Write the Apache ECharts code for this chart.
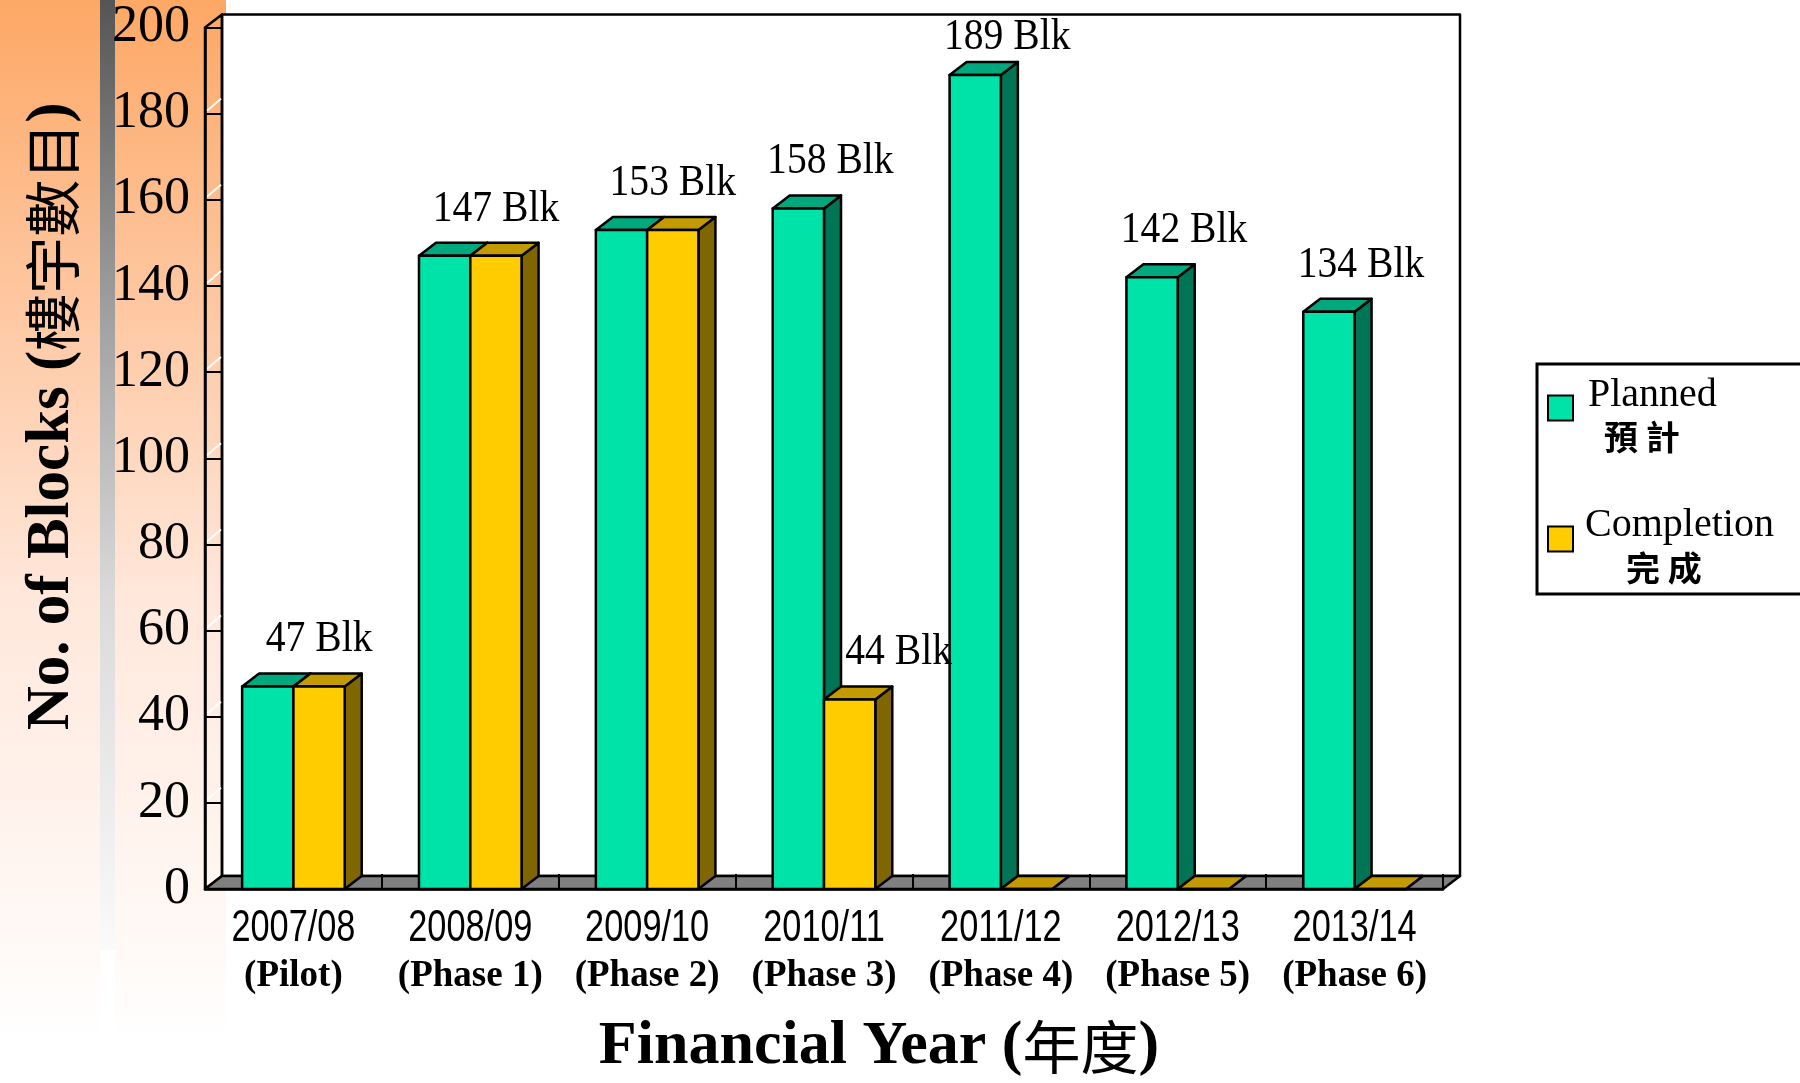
<!DOCTYPE html>
<html>
<head>
<meta charset="utf-8">
<title>No. of Blocks</title>
<script src="https://cdn.jsdelivr.net/npm/echarts@6.0.0/dist/echarts.min.js"></script>
<style>
  html, body { margin: 0; padding: 0; background: #fff; }
  #chart { width: 1800px; height: 1083px; }
</style>
</head>
<body>
<div id="chart"></div>
<script>
// 数据
var years = ['2007/08', '2008/09', '2009/10', '2010/11', '2011/12', '2012/13', '2013/14'];
var phases = ['(Pilot)', '(Phase 1)', '(Phase 2)', '(Phase 3)', '(Phase 4)', '(Phase 5)', '(Phase 6)'];
var planned = [47, 147, 153, 158, 189, 142, 134];
var completed = [47, 147, 153, 44, 0, 0, 0];
var yTicks = [0, 20, 40, 60, 80, 100, 120, 140, 160, 180, 200];

(function () {
  var myChart = echarts.init(document.getElementById('chart'));

  // 3D 深度偏移
  var DX = 17, DY = -13;
  var serif = '"Liberation Serif", "Times New Roman", serif';
  var sans = '"Liberation Sans", Arial, sans-serif';
  var cjk = '"Noto Sans CJK TC", "Noto Sans CJK SC", sans-serif';

  var green = { front: '#00E3A8', top: '#00A87E', side: '#007556' };
  var yellow = { front: '#FFCC00', top: '#C39B00', side: '#806600' };

  function edge(fill) {
    return { fill: fill, stroke: '#000', lineWidth: 2.5, lineJoin: 'round' };
  }

  // 背景墙、侧墙、地板、类目文字
  function renderFrame(params, api) {
    var cs = params.coordSys;
    var x = cs.x, y = cs.y, w = cs.width, h = cs.height;
    var children = [];
    children.push({ type: 'rect', shape: { x: x + DX, y: y + DY, width: w, height: h }, style: edge('#fff') });
    children.push({
      type: 'polygon',
      shape: { points: [[x, y], [x + DX, y + DY], [x + DX, y + h + DY], [x, y + h]] },
      style: edge('none')
    });
    yTicks.forEach(function (t) {
      var p = api.coord([0, t]);
      if (t === 0 || t === 200) return;
      children.push({
        type: 'line',
        shape: { x1: x + 2, y1: p[1] - 3, x2: x + DX - 1, y2: p[1] + DY - 2 },
        style: { stroke: '#fff', lineWidth: 2 }
      });
    });
    children.push({
      type: 'polygon',
      shape: { points: [[x, y + h], [x + w, y + h], [x + w + DX, y + h + DY], [x + DX, y + h + DY]] },
      style: edge('#808080')
    });
    // 类目标签（窄体年份 + 粗体期数）
    years.forEach(function (yr, i) {
      var p = api.coord([i, 0]);
      children.push({
        type: 'text', x: p[0], y: p[1] + 40, scaleX: 0.78,
        style: { text: yr, font: '44px ' + sans, fill: '#000', align: 'center', verticalAlign: 'middle' }
      });
      children.push({
        type: 'text', x: p[0], y: p[1] + 87,
        style: { text: phases[i], font: 'bold 37px ' + serif, fill: '#000', align: 'center', verticalAlign: 'middle' }
      });
    });
    return { type: 'group', children: children };
  }

  // 立体柱子
  function makeBar(idx, col) {
    return function (params, api) {
      var i = api.value(0), v = api.value(1);
      var base = api.coord([i, 0]);
      var topPt = api.coord([i, v]);
      var band = api.size([1, 0])[0];
      var w = band * 0.29;
      var x0 = idx === 0 ? base[0] - w : base[0];
      var y0 = topPt[1], y1 = base[1];
      var children = [
        {
          type: 'polygon',
          shape: { points: [[x0 + w, y0], [x0 + w + DX, y0 + DY], [x0 + w + DX, y1 + DY], [x0 + w, y1]] },
          style: edge(col.side)
        },
        {
          type: 'polygon',
          shape: { points: [[x0, y0], [x0 + w, y0], [x0 + w + DX, y0 + DY], [x0 + DX, y0 + DY]] },
          style: edge(col.top)
        },
        { type: 'rect', shape: { x: x0, y: y0, width: w, height: y1 - y0 }, style: edge(col.front) }
      ];
      // 数值标签
      var show, off;
      if (idx === 0) {
        show = planned[i] !== completed[i];
        off = 32;
      } else {
        show = v > 0;
        off = planned[i] === v ? 0 : 49;
      }
      if (show) {
        children.push({
          type: 'text',
          x: x0 + w / 2 + off,
          y: Math.max(y0 + DY - 34, params.coordSys.y + 10),
          scaleX: 0.88,
          style: {
            text: v + ' Blk',
            font: '45px ' + serif,
            fill: '#000',
            align: 'center',
            verticalAlign: 'middle'
          }
        });
      }
      return { type: 'group', children: children };
    };
  }

  function toData(arr) {
    return arr.map(function (v, i) { return [i, v]; });
  }

  var orange = {
    type: 'linear', x: 0, y: 0, x2: 0, y2: 1,
    colorStops: [
      { offset: 0, color: '#FDA865' },
      { offset: 0.29, color: '#FEC7A1' },
      { offset: 0.58, color: '#FFE8DC' },
      { offset: 0.86, color: '#FFF7F3' },
      { offset: 1, color: '#FFFFFF' }
    ]
  };
  var grey = {
    type: 'linear', x: 0, y: 0, x2: 0, y2: 1,
    colorStops: [
      { offset: 0, color: '#555555' },
      { offset: 0.32, color: '#9E9E9E' },
      { offset: 0.63, color: '#DADADA' },
      { offset: 1, color: '#FAFAFA' }
    ]
  };

  var option = {
    backgroundColor: '#fff',
    animation: false,
    graphic: [
      { type: 'rect', z: -10, shape: { x: 0, y: 0, width: 100, height: 1043 }, style: { fill: orange } },
      { type: 'rect', z: -10, shape: { x: 100, y: 0, width: 15, height: 950 }, style: { fill: grey } },
      { type: 'rect', z: -10, shape: { x: 115, y: 0, width: 111, height: 1043 }, style: { fill: orange } }
    ],
    grid: {
      left: 205,
      right: 357,
      top: 27.5,
      bottom: 194,
      outerBoundsMode: 'none'
    },
    legend: {
      data: ['Planned', 'Completion'],
      orient: 'vertical',
      left: 1537,
      top: 364,
      padding: [11, 120, 9, 10],
      itemGap: 52,
      itemWidth: 25,
      itemHeight: 25,
      icon: 'rect',
      itemStyle: { borderColor: '#000', borderWidth: 2 },
      borderColor: '#000',
      borderWidth: 3,
      backgroundColor: '#fff',
      selectedMode: false,
      formatter: function (name) {
        if (name === 'Planned') return '{a|Planned}\n{b|預 計}';
        return '{c|Completion}\n{d|完 成}';
      },
      textStyle: {
        rich: {
          a: { fontFamily: serif, fontSize: 40, color: '#000', lineHeight: 58, padding: [0, 0, 0, 10] },
          b: { fontFamily: cjk, fontSize: 34, fontWeight: 'bold', color: '#000', lineHeight: 26, padding: [0, 0, 0, 26] },
          c: { fontFamily: serif, fontSize: 40, color: '#000', lineHeight: 58, padding: [0, 0, 0, 7] },
          d: { fontFamily: cjk, fontSize: 34, fontWeight: 'bold', color: '#000', lineHeight: 26, padding: [0, 0, 0, 48] }
        }
      }
    },
    xAxis: {
      type: 'category',
      data: years,
      z: 10,
      name: '{b|Financial Year (}{c|年度}{b|)}',
      nameLocation: 'middle',
      nameGap: 126,
      nameTextStyle: {
        padding: [0, 0, 0, 110],
        rich: {
          b: { fontFamily: serif, fontWeight: 'bold', fontSize: 62, color: '#000', lineHeight: 64 },
          c: { fontFamily: cjk, fontSize: 58, color: '#000', lineHeight: 64 }
        }
      },
      axisLine: { lineStyle: { color: '#000', width: 2.5 } },
      axisTick: { show: true, inside: true, length: 15, lineStyle: { color: '#000', width: 2 } },
      axisLabel: { show: false },
      splitLine: { show: false }
    },
    yAxis: {
      type: 'value',
      min: 0,
      max: 200,
      interval: 20,
      z: 10,
      name: '{b|No. of Blocks (}{c|樓宇數目}{b|)}',
      nameLocation: 'middle',
      nameRotate: 90,
      nameGap: 121,
      nameTextStyle: {
        padding: [0, 0, 0, 84],
        rich: {
          b: { fontFamily: serif, fontWeight: 'bold', fontSize: 61, color: '#000', lineHeight: 64 },
          c: { fontFamily: cjk, fontSize: 57, color: '#000', lineHeight: 64 }
        }
      },
      axisLine: { show: true, lineStyle: { color: '#000', width: 2.5 } },
      axisTick: { show: true, inside: true, length: 17, lineStyle: { color: '#000', width: 2 } },
      axisLabel: { margin: 15, fontFamily: serif, fontSize: 52, color: '#000' },
      splitLine: { show: false }
    },
    series: [
      {
        name: 'frame',
        type: 'custom',
        z: 1,
        silent: true,
        renderItem: renderFrame,
        data: [[0, 0]]
      },
      {
        name: 'Planned',
        type: 'custom',
        z: 2,
        itemStyle: { color: green.front },
        renderItem: makeBar(0, green),
        encode: { x: 0, y: 1 },
        data: toData(planned)
      },
      {
        name: 'Completion',
        type: 'custom',
        z: 3,
        itemStyle: { color: yellow.front },
        renderItem: makeBar(1, yellow),
        encode: { x: 0, y: 1 },
        data: toData(completed)
      }
    ]
  };

  myChart.setOption(option);

  window.addEventListener('resize', function () {
    myChart.resize();
  });
})();
</script>
</body>
</html>
